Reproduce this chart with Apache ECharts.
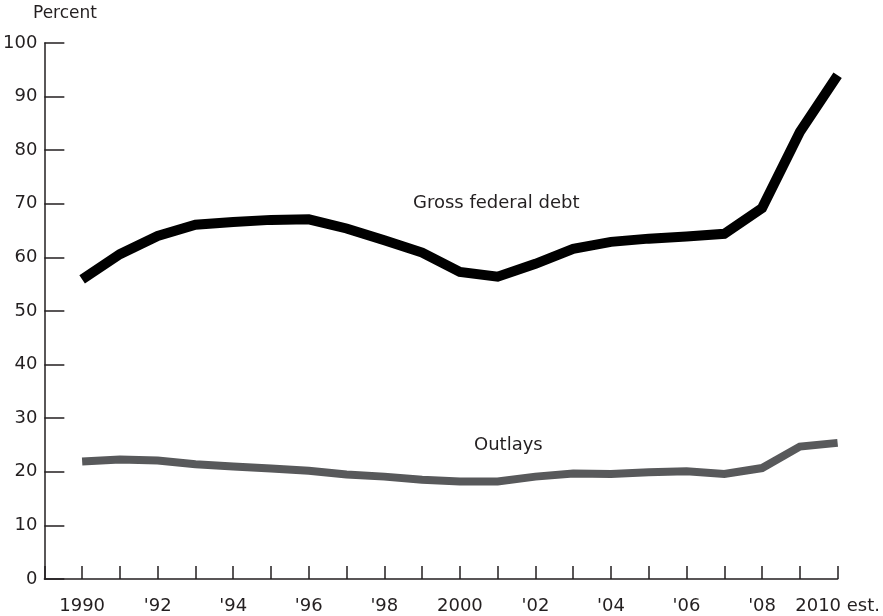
<!DOCTYPE html>
<html>
<head>
<meta charset="utf-8">
<script src="https://cdn.jsdelivr.net/npm/echarts@6/dist/echarts.min.js"></script>
<style>html,body{margin:0;padding:0;background:#fff}#c{width:883px;height:616px}</style>
</head>
<body>
<div id="c"></div>
<script>
const years = [1990,1991,1992,1993,1994,1995,1996,1997,1998,1999,2000,2001,2002,2003,2004,2005,2006,2007,2008,2009,2010];
const grossDebt = [55.9,60.6,64.0,66.1,66.6,67.0,67.1,65.4,63.2,60.9,57.3,56.4,58.8,61.6,62.9,63.5,63.9,64.4,69.2,83.4,94.0];
const outlays = [21.9,22.3,22.1,21.4,21.0,20.6,20.2,19.5,19.1,18.5,18.2,18.2,19.1,19.7,19.6,19.9,20.1,19.6,20.7,24.7,25.4];
const xTickLabels = {1990:'1990',1992:"'92",1994:"'94",1996:"'96",1998:"'98",2000:'2000',2002:"'02",2004:"'04",2006:"'06",2008:"'08",2010:'2010 est.'};
const yTicks = [0,10,20,30,40,50,60,70,80,90,100];

const font = 'DejaVu Sans';
const chart = echarts.init(document.getElementById('c'));
chart.setOption({
  animation: false,
  grid: {left: 44, right: 44, top: 43, bottom: 37, containLabel: false},
  xAxis: {
    type: 'value', min: 1989, max: 2010, interval: 1,
    axisLine: {show: true, lineStyle: {color: '#231f20', width: 1.5}},
    axisTick: {show: true, inside: true, length: 13, lineStyle: {color: '#231f20', width: 1.5}},
    axisLabel: {margin: 18, color: '#231f20', fontFamily: font, fontSize: 18,
      formatter: v => xTickLabels[v] || '', showMinLabel: true, showMaxLabel: true},
    splitLine: {show: false}
  },
  yAxis: {
    type: 'value', min: yTicks[0], max: yTicks[yTicks.length-1], interval: 10,
    axisLine: {show: true, lineStyle: {color: '#231f20', width: 1.5}},
    axisTick: {show: true, inside: true, length: 20, lineStyle: {color: '#231f20', width: 1.5}},
    axisLabel: {margin: 7, color: '#231f20', fontFamily: font, fontSize: 18},
    splitLine: {show: false}
  },
  graphic: [
    {type: 'text', left: 33, top: 5, style: {text: 'Percent', fill: '#231f20', font: '17px "DejaVu Sans"'}},
    {type: 'text', left: 413, top: 194, style: {text: 'Gross federal debt', fill: '#231f20', font: '18px "DejaVu Sans"'}},
    {type: 'text', left: 474, top: 436, style: {text: 'Outlays', fill: '#231f20', font: '18px "DejaVu Sans"'}}
  ],
  series: [
    {type: 'line', data: years.map((y,i) => [y, grossDebt[i]]), symbol: 'none',
      lineStyle: {color: '#000', width: 10, join: 'miter'}},
    {type: 'line', data: years.map((y,i) => [y, outlays[i]]), symbol: 'none',
      lineStyle: {color: '#58595b', width: 8, join: 'miter'}}
  ]
});
</script>
</body>
</html>
